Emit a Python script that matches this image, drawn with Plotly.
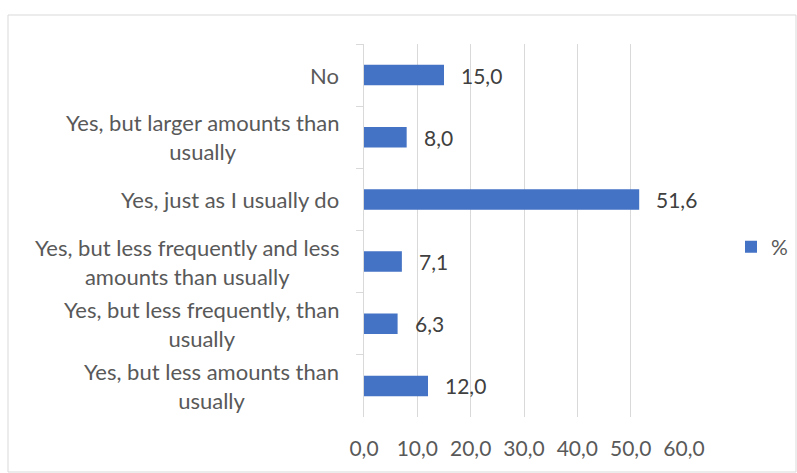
import plotly.graph_objects as go

categories = [
    "No",
    "Yes, but larger amounts than<br>usually",
    "Yes, just as I usually do",
    "Yes, but less frequently and less<br>amounts than usually",
    "Yes, but less frequently, than<br>usually",
    "Yes, but less amounts than<br>usually",
]
values = [15.0, 8.0, 51.6, 7.1, 6.3, 12.0]
series_name = "%"
x_ticks = [0, 10, 20, 30, 40, 50, 60]

FONT = "Lato"
FS = 21
L, R, T, B = 364, 113, 44, 56
W, H = 797, 473
pw, ph = W - L - R, H - T - B

fig = go.Figure()
fig.add_trace(go.Bar(
    x=values, y=categories, orientation="h", name=series_name,
    marker=dict(color="#4472C4", line=dict(width=0)),
    showlegend=True,
))

# data labels
for c, v in zip(categories, values):
    fig.add_annotation(x=v, y=c, text=f"{v:.1f}".replace(".", ","), showarrow=False,
                       xanchor="left", xshift=15, font=dict(family=FONT, size=FS, color="#404040"))
# category labels (centered multi-line)
for c in categories:
    fig.add_annotation(x=(341 - L) / pw, xref="paper", y=c, text=c, showarrow=False,
                       xanchor="right", align="center",
                       font=dict(family=FONT, size=22, color="#595959"))

# outer border
fig.add_shape(type="rect", xref="paper", yref="paper",
              x0=(8 - L) / pw, x1=(796 - L) / pw, y0=(ph - (472 - T)) / ph, y1=1 + (T - 15) / ph,
              line=dict(color="#D9D9D9", width=1), layer="below")

fig.update_layout(
    width=W, height=H,
    margin=dict(l=L, r=R, t=T, b=B, autoexpand=False),
    paper_bgcolor="white", plot_bgcolor="white",
    separators=",.",
    bargap=0.67,
    font=dict(family=FONT, size=FS, color="#595959"),
    xaxis=dict(range=[0, 60], tickvals=x_ticks, tickformat=".1f", showgrid=True,
               gridcolor="#D9D9D9", gridwidth=1, zeroline=False, showline=False,
               ticks="", ticklabelstandoff=17,
               tickfont=dict(family=FONT, size=FS, color="#595959")),
    yaxis=dict(type="category", autorange="reversed", showticklabels=False,
               showline=True, linecolor="#D9D9D9", linewidth=1,
               ticks="outside", ticklen=7, tickcolor="#D9D9D9", tickson="boundaries",
               showgrid=False, zeroline=False),
    legend=dict(xref="container", yref="container", x=731 / W, y=1 - 247 / H,
                xanchor="left", yanchor="middle", itemwidth=30,
                font=dict(family=FONT, size=FS, color="#595959"), bgcolor="rgba(0,0,0,0)"),
)

fig.write_html("out.html")
